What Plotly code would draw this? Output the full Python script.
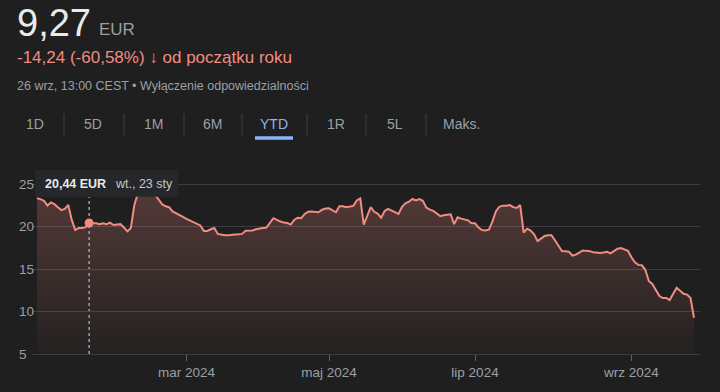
import plotly.graph_objects as go

# ---------------- data ----------------
dates = [
    "2024-01-02", "2024-01-03", "2024-01-04", "2024-01-05", "2024-01-08", "2024-01-09", "2024-01-10",
    "2024-01-11", "2024-01-12", "2024-01-15", "2024-01-16", "2024-01-17", "2024-01-18", "2024-01-19",
    "2024-01-22", "2024-01-23", "2024-01-24", "2024-01-25", "2024-01-26", "2024-01-29", "2024-01-30",
    "2024-01-31", "2024-02-01", "2024-02-02", "2024-02-05", "2024-02-06", "2024-02-07", "2024-02-08",
    "2024-02-09", "2024-02-12", "2024-02-13", "2024-02-14", "2024-02-15", "2024-02-16", "2024-02-19",
    "2024-02-20", "2024-02-21", "2024-02-22", "2024-02-23", "2024-02-26", "2024-02-27", "2024-02-28",
    "2024-02-29", "2024-03-01", "2024-03-04", "2024-03-05", "2024-03-06", "2024-03-07", "2024-03-08",
    "2024-03-11", "2024-03-12", "2024-03-13", "2024-03-14", "2024-03-15", "2024-03-18", "2024-03-19",
    "2024-03-20", "2024-03-21", "2024-03-22", "2024-03-25", "2024-03-26", "2024-03-27", "2024-03-28",
    "2024-04-02", "2024-04-03", "2024-04-04", "2024-04-05", "2024-04-08", "2024-04-09", "2024-04-10",
    "2024-04-11", "2024-04-12", "2024-04-15", "2024-04-16", "2024-04-17", "2024-04-18", "2024-04-19",
    "2024-04-22", "2024-04-23", "2024-04-24", "2024-04-25", "2024-04-26", "2024-04-29", "2024-04-30",
    "2024-05-02", "2024-05-03", "2024-05-06", "2024-05-07", "2024-05-08", "2024-05-09", "2024-05-10",
    "2024-05-13", "2024-05-14", "2024-05-15", "2024-05-16", "2024-05-17", "2024-05-20", "2024-05-21",
    "2024-05-22", "2024-05-23", "2024-05-24", "2024-05-27", "2024-05-28", "2024-05-29", "2024-05-30",
    "2024-05-31", "2024-06-03", "2024-06-04", "2024-06-05", "2024-06-06", "2024-06-07", "2024-06-10",
    "2024-06-11", "2024-06-12", "2024-06-13", "2024-06-14", "2024-06-17", "2024-06-18", "2024-06-19",
    "2024-06-20", "2024-06-21", "2024-06-24", "2024-06-25", "2024-06-26", "2024-06-27", "2024-06-28",
    "2024-07-01", "2024-07-02", "2024-07-03", "2024-07-04", "2024-07-05", "2024-07-08", "2024-07-09",
    "2024-07-10", "2024-07-11", "2024-07-12", "2024-07-15", "2024-07-16", "2024-07-17", "2024-07-18",
    "2024-07-19", "2024-07-22", "2024-07-23", "2024-07-24", "2024-07-25", "2024-07-26", "2024-07-29",
    "2024-07-30", "2024-07-31", "2024-08-01", "2024-08-02", "2024-08-05", "2024-08-06", "2024-08-07",
    "2024-08-08", "2024-08-09", "2024-08-12", "2024-08-13", "2024-08-14", "2024-08-15", "2024-08-16",
    "2024-08-19", "2024-08-20", "2024-08-21", "2024-08-22", "2024-08-23", "2024-08-26", "2024-08-27",
    "2024-08-28", "2024-08-29", "2024-08-30", "2024-09-02", "2024-09-03", "2024-09-04", "2024-09-05",
    "2024-09-06", "2024-09-09", "2024-09-10", "2024-09-11", "2024-09-12", "2024-09-13", "2024-09-16",
    "2024-09-17", "2024-09-18", "2024-09-19", "2024-09-20", "2024-09-23", "2024-09-24", "2024-09-25",
    "2024-09-26",
]
prices = [
    23.35, 23.25, 23.05, 22.50, 22.85, 22.65, 22.30,
    21.95, 22.10, 22.55, 20.80, 19.60, 19.85, 19.85,
    19.95, 20.44, 20.40, 20.40, 20.30, 20.40, 20.30,
    20.47, 20.20, 20.25, 20.30, 19.90, 19.45, 19.85,
    22.55, 23.90, 24.60, 24.90, 24.80, 24.30, 23.70,
    23.20, 22.64, 22.40, 22.30, 21.80, 21.55, 21.40,
    21.15, 20.93, 20.75, 20.55, 20.40, 20.15, 19.50,
    19.50, 19.70, 19.85, 19.15, 19.05, 19.00, 19.00,
    19.00, 19.07, 19.10, 19.15, 19.53, 19.53, 19.55,
    19.70, 19.80, 19.85, 19.90, 20.40, 21.00, 20.80,
    20.60, 20.50, 20.43, 20.25, 20.80, 21.05, 21.00,
    21.50, 21.75, 21.78, 21.75, 21.70, 22.00, 22.15,
    22.17, 21.95, 21.70, 22.40, 22.40, 22.30, 22.35,
    22.45, 23.10, 23.34, 20.23, 21.30, 22.30, 21.75,
    21.55, 21.05, 21.85, 22.10, 21.90, 21.65, 21.50,
    22.35, 22.75, 22.94, 23.26, 23.10, 23.26, 23.05,
    22.25, 22.00, 21.86, 21.55, 21.24, 21.35, 21.42,
    21.45, 20.30, 21.10, 20.95, 20.85, 20.75, 20.40,
    20.40, 19.90, 19.60, 19.55, 19.65, 20.60, 21.80,
    22.35, 22.48, 22.48, 22.55, 22.30, 22.20, 22.55,
    19.30, 19.77, 19.55, 19.10, 18.30, 18.60, 18.90,
    18.99, 19.00, 18.40, 17.80, 17.13, 17.10, 17.06,
    16.60, 16.70, 16.95, 17.20, 17.15, 17.12, 17.00,
    16.94, 16.90, 16.95, 17.05, 16.86, 17.17, 17.40,
    17.48, 17.30, 17.15, 16.40, 15.80, 15.50, 15.45,
    14.92, 13.60, 13.25, 12.60, 11.85, 11.60, 11.60,
    11.35, 12.05, 12.80, 12.45, 12.10, 12.00, 11.60,
    9.27,
]
holidays = ["2024-01-01", "2024-03-29", "2024-04-01", "2024-05-01"]
x_tick_vals = ["2024-03-01", "2024-05-02", "2024-07-01", "2024-09-02"]
x_tick_text = ["mar 2024", "maj 2024", "lip 2024", "wrz 2024"]
y_ticks = [5, 10, 15, 20, 25]
hover_date = "2024-01-23"
hover_price = 20.44
periods = ["1D", "5D", "1M", "6M", "YTD", "1R", "5L", "Maks."]
selected_period = "YTD"

# ---------------- style ----------------
BG = "#1f1f1f"
GRID = "#3c3d40"
RED = "#f28b82"
GREY = "#9aa0a6"
WHITE = "#e8eaed"
BLUE = "#8ab4f8"
FONT = "Liberation Sans, Arial, sans-serif"

W, H = 720, 392
L, R, T, B = 32, 700, 170, 356


def px(x):
    return (x - L) / (R - L)


def py(y):
    return (B - y) / (B - T)


fig = go.Figure()

fig.add_trace(go.Scatter(
    x=dates, y=prices, mode="lines",
    line=dict(color=RED, width=2),
    fill="tozeroy",
    fillgradient=dict(
        type="vertical",
        colorscale=[[0, "rgba(242,139,130,0.02)"], [1, "rgba(242,139,130,0.24)"]],
        start=5, stop=24,
    ),
    hoverinfo="skip",
))

fig.add_trace(go.Scatter(
    x=[hover_date], y=[hover_price], mode="markers",
    marker=dict(color=RED, size=9),
    hoverinfo="skip",
))

shapes = []
# hover guide
shapes.append(dict(type="line", xref="x", yref="y", x0=hover_date, x1=hover_date,
                   y0=5, y1=23.5, line=dict(color=GREY, width=1.5, dash="dot"), layer="below"))
# tooltip box
shapes.append(dict(type="rect", xref="paper", yref="paper", x0=px(35), x1=px(178),
                   y0=py(197), y1=py(170), fillcolor="#26272a", line=dict(width=0), layer="above"))

annotations = []
# header
annotations.append(dict(text="9,27", x=px(15), y=py(21), font=dict(size=38, color=WHITE)))
annotations.append(dict(text="EUR", x=px(97), y=py(28), font=dict(size=17, color=GREY)))
annotations.append(dict(text="-14,24 (-60,58%) <b>↓</b> od początku roku", x=px(15), y=py(56.5),
                        font=dict(size=17, color=RED)))
annotations.append(dict(text="26 wrz, 13:00 CEST • Wyłączenie odpowiedzialności", x=px(15), y=py(85.5),
                        font=dict(size=12.5, color=GREY)))

# period buttons
btn_x = [34.5, 93, 153.5, 212, 274, 336, 395, 461]
for name, bx in zip(periods, btn_x):
    annotations.append(dict(text=name, x=px(bx), y=py(124), xanchor="center",
                            font=dict(size=14, color=BLUE if name == selected_period else GREY)))
    if name == selected_period:
        shapes.append(dict(type="rect", xref="paper", yref="paper", x0=px(bx - 19), x1=px(bx + 19),
                           y0=py(139.5), y1=py(136), fillcolor=BLUE, line=dict(width=0)))
for sx in [64, 124, 184, 242, 307, 366, 426]:
    shapes.append(dict(type="line", xref="paper", yref="paper", x0=px(sx), x1=px(sx),
                       y0=py(135), y1=py(113), line=dict(color="#3c4043", width=1)))

# y tick labels (left aligned as in the reference)
for v in y_ticks:
    annotations.append(dict(text=str(v), x=px(17), xref="paper", yref="y", y=v,
                            font=dict(size=13.5, color=GREY)))

# tooltip text
annotations.append(dict(text="<b>20,44 EUR</b>", x=px(43), y=py(184), font=dict(size=12.5, color=WHITE)))
annotations.append(dict(text="wt., 23 sty", x=px(112.5), y=py(184), font=dict(size=12.5, color="#c4c7c5")))

for a in annotations:
    a.setdefault("xref", "paper")
    a.setdefault("yref", "paper")
    a.setdefault("xanchor", "left")
    a.setdefault("yanchor", "middle")
    a["showarrow"] = False

fig.update_layout(
    width=W, height=H,
    margin=dict(l=L, r=W - R, t=T, b=H - B, pad=0),
    paper_bgcolor=BG, plot_bgcolor=BG,
    showlegend=False,
    font=dict(family=FONT, color=GREY),
    shapes=shapes, annotations=annotations,
    xaxis=dict(
        type="date",
        range=["2023-12-28 13:26", "2024-09-27 17:30"],
        rangebreaks=[dict(bounds=["sat", "mon"]), dict(values=holidays)],
        tickmode="array", tickvals=x_tick_vals, ticktext=x_tick_text,
        ticks="outside", ticklen=6, tickcolor="#5f6368", tickwidth=1,
        tickfont=dict(size=13.5, color=GREY),
        showgrid=False, zeroline=False,
        showline=True, linecolor=GRID, linewidth=1,
        fixedrange=True,
    ),
    yaxis=dict(
        range=[5, 5 + (B - T) / 8.58],
        tickmode="array", tickvals=y_ticks,
        showticklabels=False,
        showgrid=True, gridcolor=GRID, gridwidth=1,
        zeroline=False, showline=False,
        fixedrange=True,
    ),
)

fig.write_html(
    "out.html",
    config={"displayModeBar": False},
    post_script="document.body.style.margin='0';document.body.style.background='#1f1f1f';document.body.style.overflow='hidden';",
)
